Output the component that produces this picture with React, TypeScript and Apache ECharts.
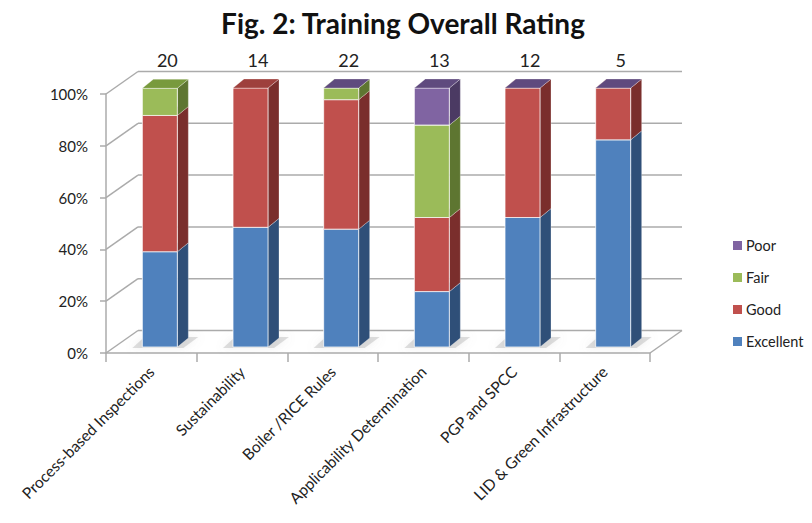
import React, { useEffect, useRef } from "react";
import * as echarts from "echarts";

const categories = [
  "Process-based Inspections",
  "Sustainability",
  "Boiler /RICE Rules",
  "Applicability Determination",
  "PGP and SPCC",
  "LID & Green Infrastructure",
];
const responses = [20, 14, 22, 13, 12, 5];
// percentages per rating (null = segment not drawn)
const excellent = [36.8, 46.2, 45.5, 21.4, 50.0, 80.0];
const good = [52.6, 53.8, 50.0, 28.6, 50.0, 20.0];
const fair: (number | null)[] = [10.5, null, 4.5, 35.7, null, null];
const poor: (number | null)[] = [null, null, 0, 14.3, 0, 0];
const yTicks = [0, 20, 40, 60, 80, 100];

const ratingNames = ["Excellent", "Good", "Fair", "Poor"];
const ratingValues = [excellent, good, fair, poor];
const frontColors = ["#4F81BD", "#C0504D", "#9BBB59", "#8064A2"];
const topColors = ["#3F6797", "#9E403D", "#789A3D", "#5F4A7E"];
const sideColors = ["#2F4F78", "#7A2E2C", "#5E7631", "#4B3A63"];

const FONT = "Lato, 'Open Sans', sans-serif";

// 3D projection constants
const DX = 32;
const DY = -22.5;
const BOFF_X = 8.5;
const BOFF_Y = -6;
const BW = 35;
const BDX = 11;
const BDY = -9;
const LINE = "#ababab";

export default function App() {
  const ref = useRef<HTMLDivElement>(null);
  useEffect(() => {
    if (!ref.current) return;
    const chart = echarts.init(ref.current, null, { renderer: "svg" });

    const frameSeries = {
      type: "custom",
      name: "frame",
      z: 1,
      silent: true,
      data: yTicks.map((v) => [0, v]),
      encode: { x: 0, y: 1 },
      renderItem: (params: any, api: any) => {
        const v = api.value(1);
        const p = api.coord([0, v]);
        const band = api.size([1, 0])[0];
        const xl = p[0] - band / 2;
        const xr = api.coord([categories.length - 1, v])[0] + band / 2;
        const y = p[1];
        const children: any[] = [
          {
            type: "line",
            shape: { x1: xl, y1: y, x2: xl + DX, y2: y + DY },
            style: { stroke: LINE, lineWidth: 1.5 },
          },
          {
            type: "line",
            shape: { x1: xl + DX, y1: y + DY, x2: xr + DX, y2: y + DY },
            style: { stroke: LINE, lineWidth: 1.5 },
          },
        ];
        if (v === 0) {
          children.push({
            type: "line",
            shape: { x1: xr, y1: y, x2: xr + DX, y2: y + DY },
            style: { stroke: LINE, lineWidth: 1.5 },
          });
        }
        return { type: "group", children };
      },
    };

    const shadowSeries = {
      type: "custom",
      name: "shadow",
      z: 2,
      silent: true,
      data: categories.map((_, i) => [i, 0]),
      encode: { x: 0, y: 1 },
      renderItem: (params: any, api: any) => {
        const p = api.coord([api.value(0), 0]);
        const x0 = p[0] - BW / 2 + BOFF_X;
        const yb = p[1] + BOFF_Y;
        return {
          type: "polygon",
          shape: {
            points: [
              [x0 - 10, yb + 1],
              [x0 + BW + 6, yb + 1],
              [x0 + BW + BDX + 10, yb + BDY - 1],
              [x0 + 2, yb + BDY - 1],
            ],
          },
          style: {
            fill: "rgba(140,140,140,0.28)",
            shadowBlur: 8,
            shadowColor: "rgba(140,140,140,0.5)",
          },
        };
      },
    };

    const barSeries = ratingNames.map((name, si) => {
      const data: any[] = [];
      categories.forEach((_, ci) => {
        const val = ratingValues[si][ci];
        if (val === null || val === undefined) return;
        let start = 0;
        for (let k = 0; k < si; k++) {
          const pv = ratingValues[k][ci];
          if (pv !== null && pv !== undefined) start += pv;
        }
        data.push([ci, start, start + val]);
      });
      return {
        type: "custom",
        name,
        z: 3,
        itemStyle: { color: frontColors[si] },
        data,
        encode: { x: 0, y: [1, 2] },
        renderItem: (params: any, api: any) => {
          const ci = api.value(0);
          const s = api.value(1);
          const e = api.value(2);
          const pS = api.coord([ci, s]);
          const pE = api.coord([ci, e]);
          const x0 = pS[0] - BW / 2 + BOFF_X;
          const x1 = x0 + BW;
          const yb = pS[1] + BOFF_Y;
          const yt = pE[1] + BOFF_Y;
          const children: any[] = [];
          if (yb - yt > 0.1) {
            children.push({
              type: "polygon",
              shape: { points: [[x1, yt], [x1 + BDX, yt + BDY], [x1 + BDX, yb + BDY], [x1, yb]] },
              style: { fill: sideColors[si], stroke: "rgba(255,255,255,0.35)", lineWidth: 0.8 },
            });
            children.push({
              type: "polygon",
              shape: { points: [[x0, yt], [x1, yt], [x1, yb], [x0, yb]] },
              style: { fill: frontColors[si], stroke: "rgba(255,255,255,0.75)", lineWidth: 1 },
            });
          }
          children.push({
            type: "polygon",
            shape: { points: [[x0, yt], [x0 + BDX, yt + BDY], [x1 + BDX, yt + BDY], [x1, yt]] },
            style: { fill: topColors[si], stroke: "rgba(255,255,255,0.35)", lineWidth: 0.8 },
          });
          return { type: "group", children };
        },
      };
    });

    const countSeries = {
      type: "custom",
      name: "counts",
      z: 4,
      silent: true,
      data: responses.map((r, i) => [i, 100, r]),
      encode: { x: 0, y: 1 },
      renderItem: (params: any, api: any) => {
        const p = api.coord([api.value(0), 100]);
        return {
          type: "text",
          style: {
            text: String(api.value(2)),
            x: p[0] + 16,
            y: p[1] - 34,
            textAlign: "center",
            textVerticalAlign: "middle",
            fontFamily: FONT,
            fontSize: 18,
            fill: "#222",
          },
        };
      },
    };

    chart.setOption({
      animation: false,
      backgroundColor: "#ffffff",
      title: {
        text: "Fig. 2: Training Overall Rating",
        left: 398,
        top: 4,
        textAlign: "center",
        textStyle: { fontFamily: FONT, fontSize: 28, fontWeight: "bold", color: "#111" },
      },
      legend: {
        orient: "vertical",
        left: 728,
        top: 233,
        itemWidth: 9,
        itemHeight: 9,
        itemGap: 17,
        icon: "rect",
        data: ["Poor", "Fair", "Good", "Excellent"],
        textStyle: { fontFamily: FONT, fontSize: 14.5, color: "#222", padding: [0, 0, 0, -1] },
      },
      grid: { left: 106, top: 94, width: 544, height: 259, containLabel: false },
      xAxis: {
        type: "category",
        data: categories,
        axisLine: { lineStyle: { color: LINE, width: 1.5 } },
        axisTick: { show: true, length: 9, lineStyle: { color: LINE, width: 1.5 } },
        axisLabel: {
          rotate: 45,
          interval: 0,
          margin: 16,
          fontFamily: FONT,
          fontSize: 15.5,
          color: "#222",
        },
        splitLine: { show: false },
      },
      yAxis: {
        type: "value",
        min: 0,
        max: 100,
        interval: 20,
        axisLine: { show: true, lineStyle: { color: LINE, width: 1.5 } },
        axisTick: { show: true, length: 6, lineStyle: { color: LINE, width: 1.5 } },
        axisLabel: {
          formatter: "{value}%",
          margin: 18,
          fontFamily: FONT,
          fontSize: 15,
          color: "#222",
        },
        splitLine: { show: false },
      },
      series: [frameSeries, shadowSeries, ...barSeries, countSeries],
    });
    return () => chart.dispose();
  }, []);
  return (
    <div
      ref={ref}
      style={{ position: "fixed", left: 0, top: 0, width: 812, height: 523 }}
    />
  );
}
